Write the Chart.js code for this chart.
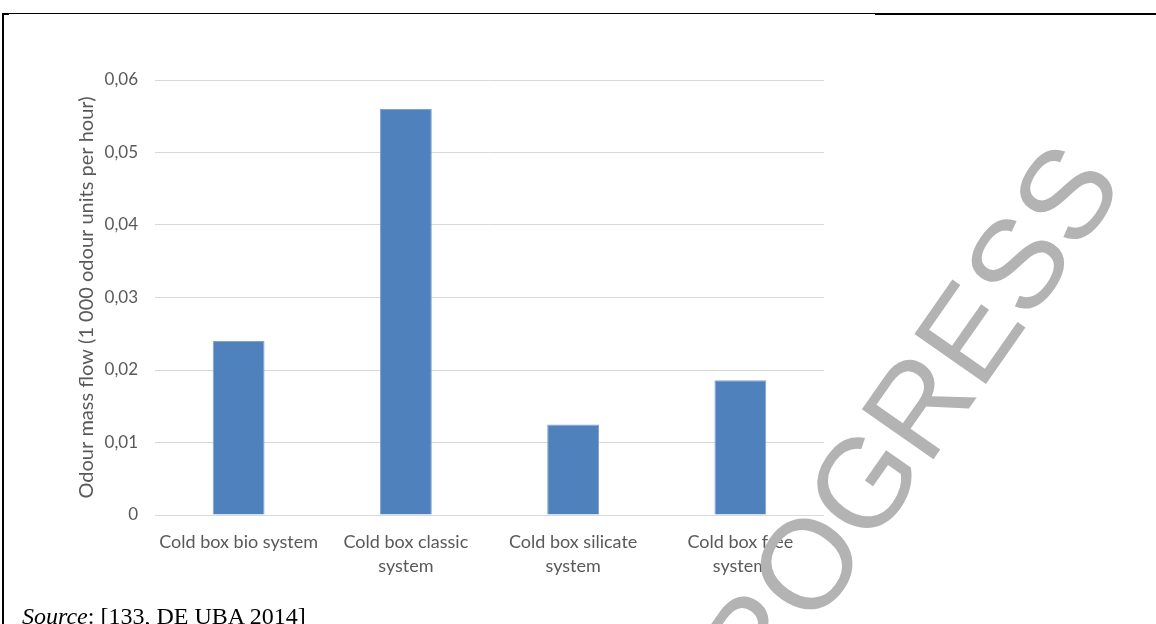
<!DOCTYPE html>
<html>
<head>
<meta charset="utf-8">
<script src="https://cdn.jsdelivr.net/npm/chart.js@4.4.0/dist/chart.umd.min.js"></script>
<style>
  html, body { margin: 0; padding: 0; background: #fff; overflow: hidden; }
  #page { position: relative; width: 1156px; height: 624px; overflow: hidden; }
  #chart { position: absolute; left: 0; top: 0; }
  .rule { position: absolute; background: #000; }
  #source {
    position: absolute; left: 22px; top: 604px;
    font-family: "Liberation Serif", "Times New Roman", serif;
    font-size: 24px; line-height: 24px; color: #000; white-space: nowrap;
  }
</style>
</head>
<body>
<div id="page">
  <canvas id="chart" width="1156" height="624"></canvas>
  <div class="rule" style="left:2px; top:13px; width:873px; height:1px;"></div>
  <div class="rule" style="left:2px; top:13px; width:7px; height:2px;"></div>
  <div class="rule" style="left:875px; top:13px; width:281px; height:2px;"></div>
  <div class="rule" style="left:2px; top:13px; width:2px; height:611px;"></div>
  <div id="source"><i>Source</i>: [133, DE UBA 2014]</div>
</div>
<script>
// Categories (multi-line axis labels)
const categories = [
  ["Cold box bio system"],
  ["Cold box classic", "system"],
  ["Cold box silicate", "system"],
  ["Cold box free", "system"]
];
// Odour mass flow, 1 000 odour units per hour
const odourMassFlow = [0.024, 0.056, 0.0125, 0.0186];
// Y axis ticks and their printed labels
const yTickValues = [0, 0.01, 0.02, 0.03, 0.04, 0.05, 0.06];
const yTickLabels = ["0", "0,01", "0,02", "0,03", "0,04", "0,05", "0,06"];
const yAxisTitle = "Odour mass flow (1 000 odour units per hour)";
const watermarkText = "PROGRESS";

const textGrey = "#595959";
const uiFont = "Lato, 'Open Sans', sans-serif";

// Large diagonal watermark painted over the chart
const watermark = {
  id: "watermark",
  afterDraw(chart) {
    const ctx = chart.ctx;
    ctx.save();
    ctx.translate(713, 774);
    ctx.rotate(-55 * Math.PI / 180);
    ctx.font = "127px 'Liberation Sans', Arial, sans-serif";
    ctx.fillStyle = "#b3b3b3";
    ctx.textBaseline = "alphabetic";
    ctx.textAlign = "left";
    ctx.fillText(watermarkText, 0, 0);
    ctx.restore();
  }
};

new Chart(document.getElementById("chart"), {
  type: "bar",
  data: {
    labels: categories,
    datasets: [{
      data: odourMassFlow,
      backgroundColor: "#4f81bd",
      borderColor: "#7fa3d0",
      borderWidth: 1,
      barPercentage: 0.31,
      categoryPercentage: 1.0
    }]
  },
  options: {
    responsive: false,
    animation: false,
    devicePixelRatio: 1,
    layout: { padding: { left: 0, top: 80, right: 332, bottom: 0 } },
    plugins: {
      legend: { display: false },
      tooltip: { enabled: false }
    },
    scales: {
      x: {
        grid: { display: false, drawTicks: false },
        border: { display: false },
        ticks: {
          color: textGrey,
          font: { family: uiFont, size: 18, lineHeight: 1.33 },
          padding: 15,
          maxRotation: 0,
          autoSkip: false
        },
        afterFit(scale) { scale.height = 109; }
      },
      y: {
        min: 0,
        max: 0.06,
        afterBuildTicks(scale) {
          scale.ticks = yTickValues.map(v => ({ value: v }));
        },
        grid: { color: "#d9d9d9", lineWidth: 1, drawTicks: false },
        border: { display: false },
        ticks: {
          color: textGrey,
          font: { family: uiFont, size: 17 },
          padding: 17,
          callback(value, index) { return yTickLabels[index]; }
        },
        title: {
          display: true,
          text: yAxisTitle,
          color: textGrey,
          font: { family: uiFont, size: 20 },
          padding: { top: 75, bottom: 0 }
        },
        afterFit(scale) { scale.width = 155; }
      }
    }
  },
  plugins: [watermark]
});
</script>
</body>
</html>
